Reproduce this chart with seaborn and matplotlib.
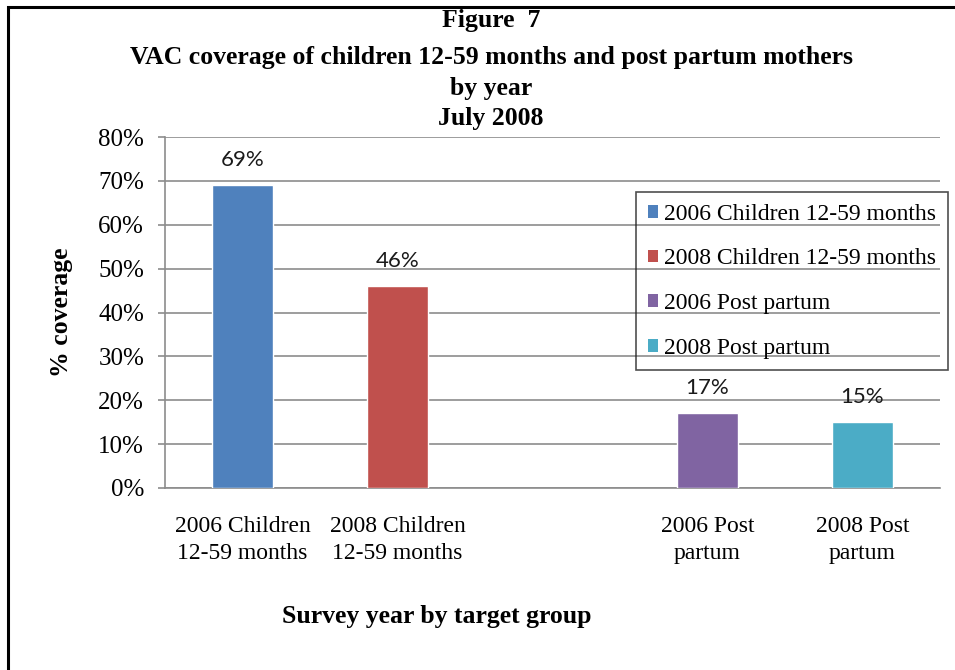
import matplotlib
matplotlib.use("Agg")
import matplotlib.pyplot as plt
from matplotlib.patches import Patch, Rectangle
from matplotlib.ticker import PercentFormatter
import seaborn as sns
import pandas as pd

# Survey groups and coverage (%)
groups = ["2006 Children 12-59 months", "2008 Children 12-59 months",
          "2006 Post partum", "2008 Post partum"]
tick_labels = ["2006 Children\n12-59 months", "2008 Children\n12-59 months",
               "2006 Post\npartum", "2008 Post\npartum"]
coverage = [69, 46, 17, 15]
colors = ["#4F81BD", "#C0504D", "#8064A2", "#4BACC6"]

# an unused slot separates the children from the mothers
gap = " "
order = tick_labels[:2] + [gap] + tick_labels[2:]

df = pd.DataFrame({"group": tick_labels, "coverage": coverage, "legend": groups})

sns.set_style("white")
serif = ["Liberation Serif", "DejaVu Serif"]
plt.rcParams["font.family"] = serif
plt.rcParams["text.color"] = "black"
plt.rcParams["axes.labelcolor"] = "black"
plt.rcParams["xtick.color"] = "black"
plt.rcParams["ytick.color"] = "black"

fig = plt.figure(figsize=(9.55, 6.7), dpi=100)
ax = fig.add_axes([165 / 955, 1 - 488 / 670, (940 - 165) / 955, (488 - 137) / 670])

sns.barplot(data=df, x="group", y="coverage", hue="group", order=order,
            hue_order=tick_labels, palette=colors, width=0.39, dodge=False,
            legend=False, ax=ax, saturation=1, zorder=3)

for cont in ax.containers:
    ax.bar_label(cont, labels=[f"{v:.0f}%" for v in cont.datavalues],
                 padding=11, fontsize=16, family=["Lato", "DejaVu Sans"],
                 color="#1a1a1a")

ax.set_ylim(0, 80)
ax.set_yticks(range(0, 81, 10))
ax.yaxis.set_major_formatter(PercentFormatter(decimals=0))
ax.set_xlim(-0.5, 4.5)
ax.yaxis.grid(True, color="#8c8c8c", linewidth=1.2, zorder=0)
ax.set_axisbelow(True)
for side in ("top", "right"):
    ax.spines[side].set_visible(False)
for side in ("left", "bottom"):
    ax.spines[side].set_color("#8c8c8c")
    ax.spines[side].set_linewidth(1.2)

ax.tick_params(axis="y", left=True, length=5, width=1.2, color="#8c8c8c",
               pad=10, labelsize=18, labelcolor="black")
ax.tick_params(axis="x", bottom=False, pad=17, labelsize=17, labelcolor="black")
ax.set_xticks(range(len(order)))
ax.set_xticklabels(order, linespacing=1.35)
ax.set_xlabel("")
ax.set_ylabel("% coverage", fontsize=18.5, fontweight="bold", labelpad=18,
              color="black")

fig.text(437 / 955, 1 - 617 / 670, "Survey year by target group",
         ha="center", va="center", fontsize=18.5, fontweight="bold")

title_lines = ["Figure  7",
               "VAC coverage of children 12-59 months and post partum mothers",
               "by year", "July 2008"]
title_baselines = [27, 64, 95, 125]
for line, ypix in zip(title_lines, title_baselines):
    fig.text(491 / 955, 1 - ypix / 670, line, ha="center",
             va="baseline", fontsize=18.5, fontweight="bold")

handles = [Patch(facecolor=c, edgecolor="none") for c in colors]
leg = fig.legend(handles, groups, loc="upper left",
                 bbox_to_anchor=(636 / 955, 1 - 192 / 670), frameon=True,
                 fontsize=17, handlelength=0.45, handleheight=0.45,
                 handletextpad=0.25, labelspacing=1.0, borderpad=0.5,
                 fancybox=False, borderaxespad=0)
leg.get_frame().set_edgecolor("#222222")
leg.get_frame().set_linewidth(1.2)
leg.get_frame().set_facecolor("none")

# page border
fig.add_artist(Rectangle((8 / 955, -0.05), 1.2, 1 - 7 / 670 + 0.05,
                         transform=fig.transFigure, fill=False,
                         edgecolor="black", linewidth=2.2))

fig.savefig("out.png", dpi=100)
